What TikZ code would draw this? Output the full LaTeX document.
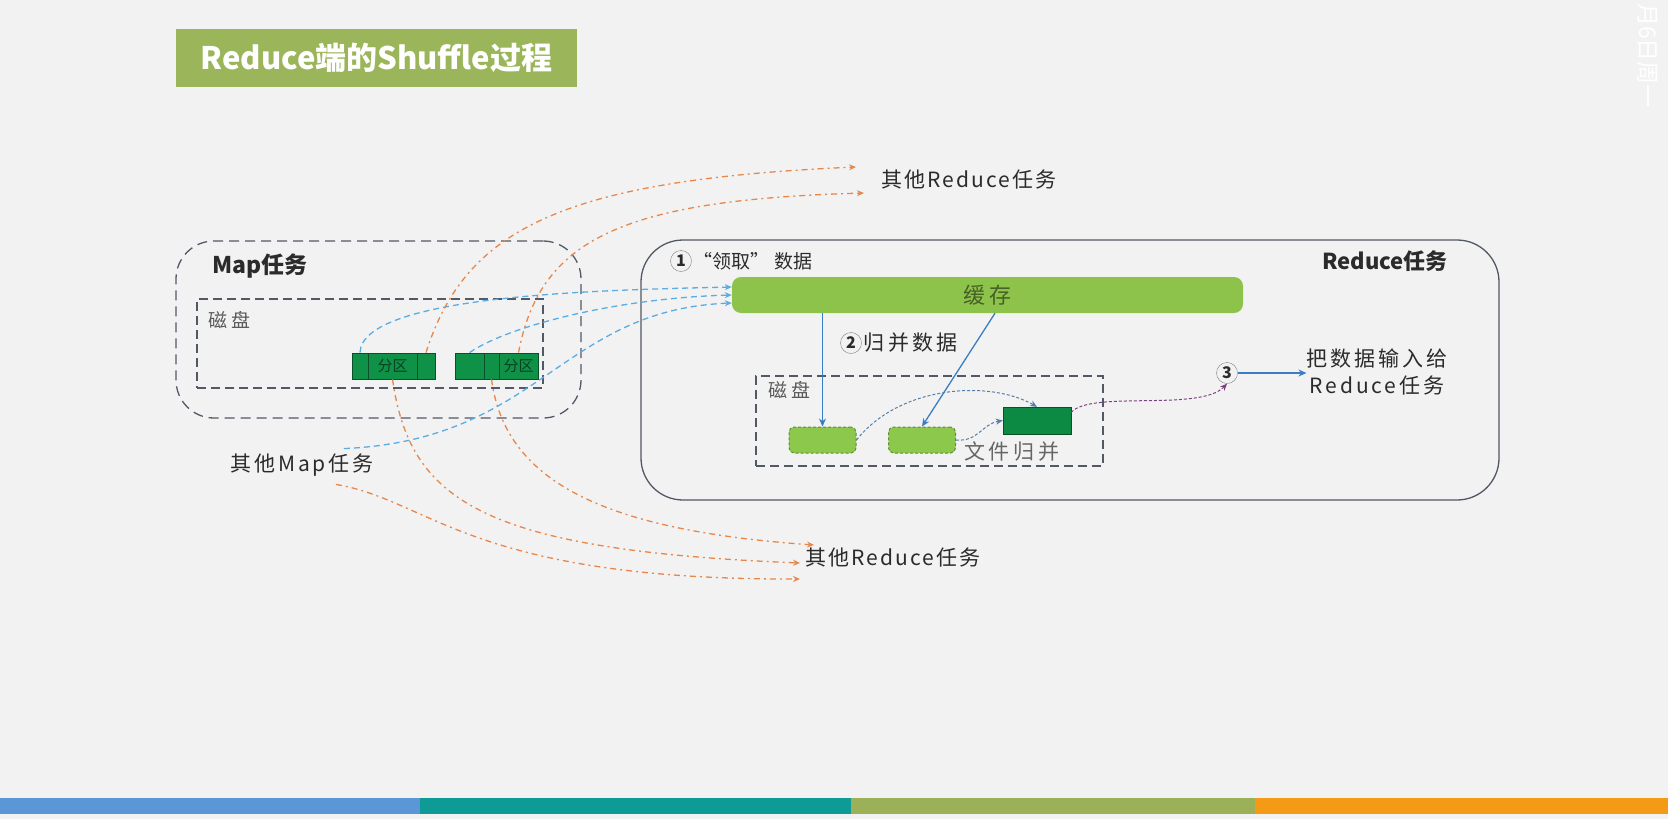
\documentclass[tikz,border=0pt]{standalone}
\usepackage{fontspec}
\setmainfont{Noto Sans CJK SC}
\usetikzlibrary{arrows.meta,positioning}

\definecolor{bgc}{HTML}{F2F2F2}
\definecolor{titlegreen}{HTML}{9BB55A}
\definecolor{cachegreen}{HTML}{8DC34B}
\definecolor{partgreen}{HTML}{0F9148}
\definecolor{darkgreen}{HTML}{0C8A44}
\definecolor{lightgreen}{HTML}{8CC84B}
\definecolor{flowblue}{HTML}{5AADE3}
\definecolor{flowor}{HTML}{E8874A}
\definecolor{solidblue}{HTML}{3B7DC4}
\definecolor{boxgray}{HTML}{535866}
\definecolor{txt}{HTML}{2B2B2B}
\definecolor{barblue}{HTML}{5B96D6}
\definecolor{barteal}{HTML}{0E9A95}
\definecolor{barolive}{HTML}{9BB059}
\definecolor{barorange}{HTML}{F59A17}

\newcommand{\fsz}[1]{\fontsize{#1}{#1}\selectfont}
\newcommand{\wide}[1]{\addfontfeatures{LetterSpace=#1}}

\begin{document}
\begin{tikzpicture}[x=1pt, y=-1pt,
  every node/.style={inner sep=0pt, text=txt},
  lbl/.style={anchor=west, font=\fsz{21}\wide{10}},
  cjklbl/.style={anchor=west, font=\fsz{21}\wide{18}},
  disklbl/.style={anchor=west, font=\fsz{19}\wide{25}, text=gray!70!black},
  taskbox/.style={draw=boxgray, line width=1.3pt, rounded corners=38pt},
  diskbox/.style={draw=boxgray, line width=1.6pt, dash pattern=on 9pt off 5pt},
  cell/.style={fill=partgreen, draw=black!45!partgreen, line width=0.8pt,
    minimum height=26pt, font=\fsz{15}, text=black!55!partgreen},
  chunk/.style={fill=lightgreen, draw=black!30!lightgreen, densely dashed,
    rounded corners=5pt, minimum width=67pt, minimum height=26pt, line width=1pt},
  num/.style={draw=gray, circle, minimum size=21pt, font=\fsz{16}\bfseries},
  fetcharr/.style={-{Stealth[length=7pt,width=6pt]}, flowblue, line width=1.3pt,
    dash pattern=on 6pt off 4pt},
  sendarr/.style={-{Stealth[length=7pt,width=6pt]}, flowor, line width=1.3pt,
    dash pattern=on 6pt off 4pt on 2pt off 4pt},
  mergearr/.style={-{Stealth[length=8pt,width=7pt]}, solidblue, line width=1.3pt},
  filearr/.style={-{Stealth[length=7pt,width=6pt]}, solidblue!60!gray, line width=1pt,
    densely dashed},
]

\fill[bgc] (0,0) rectangle (1668,819);
\useasboundingbox (0,0) rectangle (1668,819);

% bottom colour bar
\fill[barblue]   (0,798)    rectangle (420,814);
\fill[barteal]   (420,798)  rectangle (851,814);
\fill[barolive]  (851,798)  rectangle (1255,814);
\fill[barorange] (1255,798) rectangle (1668,814);

\node[text=white, font=\fsz{23}, rotate=-90, anchor=west] (stamp) at (1648,3) {月6日周一};

\node[fill=titlegreen, minimum width=401pt, minimum height=58pt,
  font=\fsz{31}\bfseries, text=white] (title) at (376.5,58) {Reduce端的Shuffle过程};

% map side
\node[taskbox, dash pattern=on 10pt off 6pt, minimum width=405pt, minimum height=177pt]
  (mapbox) at (378.5,329.5) {};
\node[lbl, font=\fsz{23}\bfseries] (maplbl) at (212,266) {Map任务};
\node[diskbox, minimum width=346pt, minimum height=89pt] (mapdisk) at (370,343.5) {};
\node[disklbl] (mapdisklbl) at (208,320) {磁盘};

\node[cell, minimum width=16pt] (p1a) at (360,366) {};
\node[cell, minimum width=49pt] (p1b) at (392.5,366) {分区};
\node[cell, minimum width=18pt] (p1c) at (426,366) {};
\node[cell, minimum width=29pt] (p2a) at (469.5,366) {};
\node[cell, minimum width=15pt] (p2b) at (491.5,366) {};
\node[cell, minimum width=39pt] (p2c) at (518.5,366) {分区};

\node[lbl, font=\fsz{21}\wide{14}] (othermap) at (230,465) {其他Map任务};
\node[lbl] (topother) at (881,180) {其他Reduce任务};
\node[lbl] (botother) at (805,558) {其他Reduce任务};

% reduce side
\node[taskbox, rounded corners=42pt, minimum width=858pt, minimum height=260pt]
  (redbox) at (1070,370) {};
\node[lbl, font=\fsz{22}\bfseries] (redlbl) at (1322,261) {Reduce任务};
\node[num] (n1) at (681,261) {1};
\node[lbl, right=2pt of n1, font=\fsz{19}] (fetchlbl) {“领取” 数据};
\node[fill=cachegreen, rounded corners=9pt, minimum width=511pt, minimum height=36pt,
  font=\fsz{22}\wide{15}, text=black!50!cachegreen] (cache) at (987.5,295) {缓存};
\node[num] (n2) at (851,343) {2};
\node[cjklbl, right=2pt of n2, font=\fsz{21}\wide{15}] (mergelbl) {归并数据};

\node[diskbox, minimum width=347pt, minimum height=90pt] (reddisk) at (929.5,421) {};
\node[disklbl] (reddisklbl) at (768,390) {磁盘};
\node[chunk] (sb1) at (822.5,440) {};
\node[chunk] (sb2) at (922,440) {};
\node[fill=darkgreen, draw=black!40!darkgreen, minimum width=68pt, minimum height=27pt]
  (merged) at (1037,420.5) {};
\node[cjklbl, text=gray!80!black] (filelbl) at (964,452) {文件归并};
\node[num] (n3) at (1227,373) {3};
\node[font=\fsz{21}\wide{14}, align=center] (outlbl) at (1377,372) {把数据输入给\\[6pt]Reduce任务};

% fetch from map tasks
\draw[fetcharr] (p1a.north) .. controls (362,295) and (600,290) .. ([yshift=8pt]cache.west);
\draw[fetcharr] (p2a.north) .. controls (510,325) and (620,298) .. (cache.west);
\draw[fetcharr] ([xshift=-30pt,yshift=5pt]othermap.north east) .. controls (540,440) and (560,310)
  .. ([yshift=-8pt]cache.west);

% send to other reduce tasks
\draw[sendarr] (p1c.north) .. controls (465,230) and (560,180) .. ([xshift=-25pt,yshift=13pt]topother.west);
\draw[sendarr] (p2c.north) .. controls (540,240) and (620,200) .. ([xshift=-17pt,yshift=-13pt]topother.west);
\draw[sendarr] (p1b.south) .. controls (410,500) and (480,550) .. ([xshift=-5pt,yshift=-5pt]botother.west);
\draw[sendarr] (p2b.south) .. controls (505,480) and (600,530) .. ([xshift=9pt,yshift=13pt]botother.west);
\draw[sendarr] ([xshift=-38pt,yshift=-8pt]othermap.south east) .. controls (430,500) and (470,580)
  .. ([xshift=-5pt,yshift=-21pt]botother.west);

% merge inside reduce task
\draw[mergearr] (sb1.north |- cache.south) -- (sb1.north);
\draw[mergearr] ([xshift=7.5pt]cache.south) -- (sb2.north);
\draw[filearr] (sb1.east) .. controls (900,385) and (990,380) .. (merged.north);
\draw[filearr] (sb2.east) .. controls (978,442) and (982,424) .. (merged.west);
\draw[filearr, draw=violet!50!gray] ([yshift=8pt]merged.east) .. controls (1090,390) and (1200,412) .. (n3.south);
\draw[mergearr] (n3.east) -- (outlbl.west |- n3.east);

\end{tikzpicture}
\end{document}
